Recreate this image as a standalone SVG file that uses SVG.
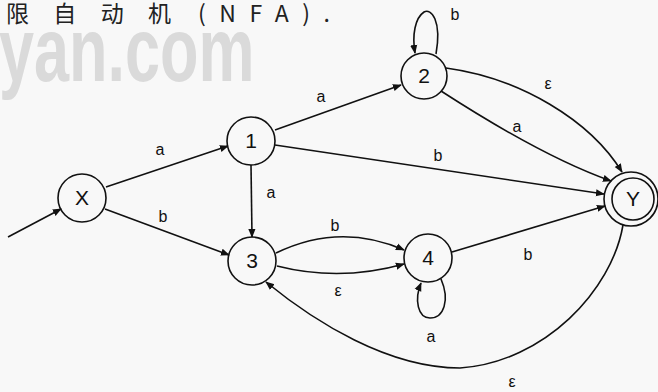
<svg xmlns="http://www.w3.org/2000/svg" width="658" height="392" viewBox="0 0 658 392">
<style>
.node{fill:none;stroke:#111;stroke-width:1.6}
.nl{font-family:"Liberation Sans",Arial,sans-serif;font-size:21px;fill:#111;text-anchor:middle}
.el{font-family:"Liberation Sans",Arial,sans-serif;font-size:16px;fill:#111;text-anchor:middle}
.edge{fill:none;stroke:#111;stroke-width:1.6;marker-end:url(#arr)}
.hdr{font-family:"Noto Sans CJK SC","Liberation Sans",sans-serif;font-size:23px;fill:#222}
.wm{font-family:"Liberation Sans",Arial,sans-serif;font-weight:bold;font-size:63px;fill:#dadada}
</style>
<defs>
<marker id="arr" viewBox="0 0 10 10" refX="9" refY="5" markerWidth="9" markerHeight="9" markerUnits="userSpaceOnUse" orient="auto">
<path d="M0,1 L10,5 L0,9 z" fill="#111"/>
</marker>
</defs>
<rect x="0" y="0" width="658" height="392" fill="#f8f8f8"/>
<g id="header">
<text class="hdr" x="6" y="22" textLength="165" lengthAdjust="spacing">限自动机</text>
<text class="hdr" x="198" y="22" textLength="132" lengthAdjust="spacing">(NFA).</text>
</g>
<g transform="translate(-1,81) scale(1,1.43)"><text class="wm" x="0" y="0">yan.com</text></g>
<g id="connectors">
<path class="edge" d="M8,237 L61,209"/>
<path class="edge" d="M106,187 L228,146"/>
<path class="edge" d="M105,209 L229,255"/>
<path class="edge" d="M251,165 L252,237"/>
<path class="edge" d="M275,130 L401,85"/>
<path class="edge" d="M275,145 L604,194"/>
<path class="edge" d="M436,54 C442,20 431,8 424,12 C415,18 412,35 415,53"/>
<path class="edge" d="M446,68 C520,78 590,120 622,172"/>
<path class="edge" d="M441,91 Q543,157 611,181"/>
<path class="edge" d="M276,253 Q340,222 404,250"/>
<path class="edge" d="M277,266 Q340,282 404,264"/>
<path class="edge" d="M441,279 C450,300 444,318 430,318 C418,318 414,300 421,283"/>
<path class="edge" d="M452,252 L605,206"/>
<path class="edge" d="M623,225 C612,290 545,362 460,368 C388,368 315,322 266,282"/>
<text class="el" x="160" y="155">a</text>
<text class="el" x="163" y="222">b</text>
<text class="el" x="271" y="198">a</text>
<text class="el" x="321" y="102">a</text>
<text class="el" x="438" y="161">b</text>
<text class="el" x="455" y="20">b</text>
<text class="el" x="548" y="89">ε</text>
<text class="el" x="517" y="132">a</text>
<text class="el" x="335" y="231">b</text>
<text class="el" x="338" y="296">ε</text>
<text class="el" x="431" y="342">a</text>
<text class="el" x="528" y="260">b</text>
<text class="el" x="512" y="387">ε</text>
</g>
<g id="node-X"><circle class="node" cx="82" cy="198" r="24"/><text class="nl" x="82" y="205">X</text></g>
<g id="node-1"><circle class="node" cx="251" cy="141" r="24"/><text class="nl" x="251" y="148">1</text></g>
<g id="node-2"><circle class="node" cx="424" cy="76" r="23"/><text class="nl" x="424" y="83">2</text></g>
<g id="node-3"><circle class="node" cx="252" cy="261" r="24"/><text class="nl" x="252" y="268">3</text></g>
<g id="node-4"><circle class="node" cx="428" cy="258" r="24"/><text class="nl" x="428" y="265">4</text></g>
<g id="node-Y"><circle class="node" cx="631" cy="199" r="27"/><circle class="node" cx="633" cy="199" r="21"/><text class="nl" x="633" y="206">Y</text></g>
</svg>
